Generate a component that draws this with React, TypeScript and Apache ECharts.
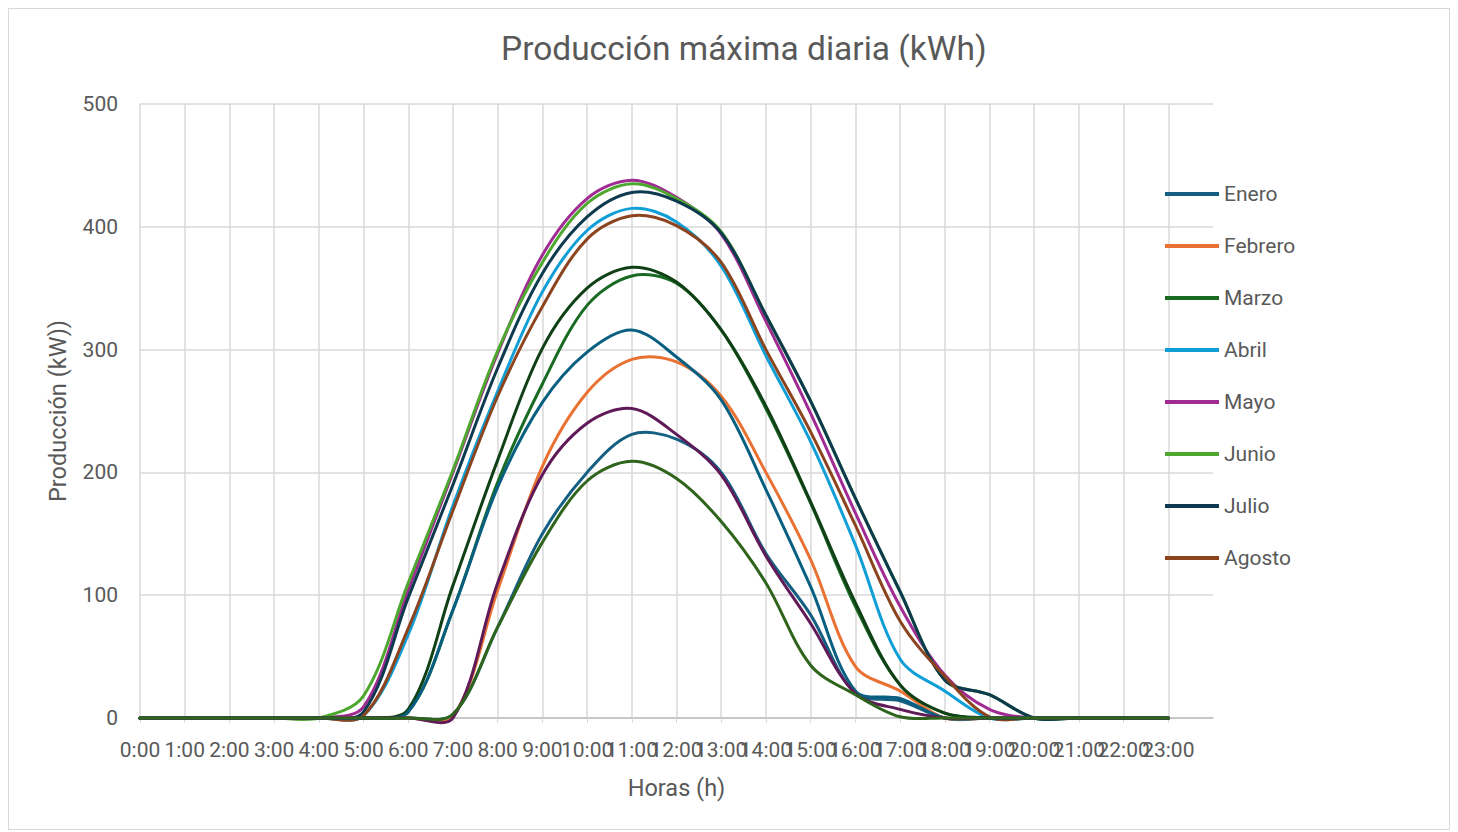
import React, { useEffect, useRef } from "react";
import * as echarts from "echarts";

const hourLabels = [
  "0:00", "1:00", "2:00", "3:00", "4:00", "5:00", "6:00", "7:00", "8:00", "9:00", "10:00", "11:00",
  "12:00", "13:00", "14:00", "15:00", "16:00", "17:00", "18:00", "19:00", "20:00", "21:00", "22:00", "23:00",
];
const categories = [...hourLabels, ""];

const monthNames = [
  "Enero", "Febrero", "Marzo", "Abril", "Mayo", "Junio",
  "Julio", "Agosto", "Septiembre", "Octubre", "Noviembre", "Diciembre",
];
const legendNames = ["Enero", "Febrero", "Marzo", "Abril", "Mayo", "Junio", "Julio", "Agosto"];

const enero = [0, 0, 0, 0, 0, 0, 0, 3, 74, 150, 200, 231, 227, 200, 134, 84, 20, 14, 0, 0, 0, 0, 0, 0];
const febrero = [0, 0, 0, 0, 0, 0, 0, 1, 104, 205, 265, 292, 290, 262, 200, 129, 42, 22, 0, 0, 0, 0, 0, 0];
const marzo = [0, 0, 0, 0, 0, 0, 5, 88, 192, 272, 336, 360, 354, 316, 252, 175, 91, 27, 4, 0, 0, 0, 0, 0];
const abril = [0, 0, 0, 0, 0, 2, 68, 173, 266, 347, 397, 415, 404, 368, 295, 225, 141, 48, 22, 0, 0, 0, 0, 0];
const mayo = [0, 0, 0, 0, 0, 9, 104, 200, 297, 377, 423, 438, 424, 394, 323, 248, 167, 91, 35, 7, 0, 0, 0, 0];
const junio = [0, 0, 0, 0, 0, 18, 110, 202, 299, 371, 419, 435, 423, 396, 328, 258, 179, 103, 31, 19, 0, 0, 0, 0];
const julio = [0, 0, 0, 0, 0, 5, 98, 190, 285, 362, 408, 428, 421, 395, 328, 258, 179, 103, 31, 19, 0, 0, 0, 0];
const agosto = [0, 0, 0, 0, 0, 2, 73, 169, 262, 335, 390, 409, 401, 371, 300, 233, 157, 79, 34, 1, 0, 0, 0, 0];
const septiembre = [0, 0, 0, 0, 0, 0, 7, 108, 210, 301, 350, 367, 355, 316, 254, 176, 94, 27, 4, 0, 0, 0, 0, 0];
const octubre = [0, 0, 0, 0, 0, 0, 5, 88, 188, 257, 298, 316, 294, 259, 186, 107, 22, 16, 0, 0, 0, 0, 0, 0];
const noviembre = [0, 0, 0, 0, 0, 0, 0, 0, 110, 198, 240, 252, 231, 198, 132, 77, 20, 7, 0, 0, 0, 0, 0, 0];
const diciembre = [0, 0, 0, 0, 0, 0, 0, 3, 74, 143, 193, 209, 195, 160, 110, 43, 19, 1, 0, 0, 0, 0, 0, 0];

const seriesValues = [
  enero, febrero, marzo, abril, mayo, junio,
  julio, agosto, septiembre, octubre, noviembre, diciembre,
];

const colors = [
  "#156082", "#E97132", "#196B24", "#0F9ED5", "#A02B93", "#4EA72E",
  "#0D3A4E", "#8C441E", "#0F4016", "#095F80", "#601A58", "#2F641C",
];

const FONT = "Roboto, 'Liberation Sans', sans-serif";
const TEXT = "#595959";
const SMOOTH = 1 / 3;

// Smooth curve through the axis-mapped points, tangents split by segment length
function smoothPath(pts: number[][]): string {
  const n = pts.length;
  const dist = (a: number[], b: number[]) => Math.hypot(b[0] - a[0], b[1] - a[1]);
  const before: number[][] = [];
  const after: number[][] = [];
  for (let i = 0; i < n; i++) {
    const prev = pts[Math.max(i - 1, 0)];
    const next = pts[Math.min(i + 1, n - 1)];
    const p = pts[i];
    const vx = next[0] - prev[0];
    const vy = next[1] - prev[1];
    const d0 = dist(prev, p);
    const d1 = dist(p, next);
    const tot = d0 + d1 || 1;
    before.push([p[0] - vx * SMOOTH * (d0 / tot), p[1] - vy * SMOOTH * (d0 / tot)]);
    after.push([p[0] + vx * SMOOTH * (d1 / tot), p[1] + vy * SMOOTH * (d1 / tot)]);
  }
  let d = `M${pts[0][0]},${pts[0][1]}`;
  for (let j = 0; j < n - 1; j++) {
    const c1 = after[j];
    const c2 = before[j + 1];
    const p2 = pts[j + 1];
    d += ` C${c1[0]},${c1[1]} ${c2[0]},${c2[1]} ${p2[0]},${p2[1]}`;
  }
  return d;
}

export default function App() {
  const ref = useRef<HTMLDivElement>(null);

  useEffect(() => {
    if (!ref.current) return;
    const chart = echarts.init(ref.current, null, { renderer: "svg" });
    const lastIdx = hourLabels.length - 1;
    chart.setOption({
      animation: false,
      color: colors,
      textStyle: { fontFamily: FONT, color: TEXT },
      title: {
        text: "Producción máxima diaria (kWh)",
        left: 487,
        top: 17,
        textStyle: { fontFamily: FONT, fontSize: 33.5, fontWeight: "normal", color: TEXT },
      },
      legend: {
        data: legendNames,
        orient: "vertical",
        left: 1151,
        top: 169,
        itemWidth: 54,
        itemHeight: 4,
        itemGap: 30,
        icon: "rect",
        textStyle: { fontFamily: FONT, fontSize: 21, color: TEXT, lineHeight: 22 },
      },
      grid: { left: 131, top: 95, width: 1073, height: 614, containLabel: false },
      xAxis: {
        type: "category",
        data: categories,
        boundaryGap: false,
        name: "Horas (h)",
        nameLocation: "middle",
        nameGap: 58,
        nameTextStyle: { fontFamily: FONT, fontSize: 23.5, color: TEXT },
        axisLine: { lineStyle: { color: "#bfbfbf", width: 1.5 } },
        axisTick: {
          show: true,
          length: 5,
          interval: (i: number) => i <= lastIdx,
          lineStyle: { color: "#d9d9d9" },
        },
        axisLabel: {
          interval: 0,
          margin: 21,
          fontFamily: FONT,
          fontSize: 21,
          color: TEXT,
          hideOverlap: false,
        },
        splitLine: {
          show: true,
          interval: (i: number) => i <= lastIdx,
          lineStyle: { color: "#d9d9d9", width: 1.5 },
        },
      },
      yAxis: {
        type: "value",
        min: 0,
        max: 500,
        interval: 100,
        name: "Producción (kW))",
        nameLocation: "middle",
        nameGap: 70,
        nameTextStyle: { fontFamily: FONT, fontSize: 23.5, color: TEXT },
        axisLine: { show: false },
        axisTick: { show: false },
        axisLabel: { margin: 22, fontFamily: FONT, fontSize: 21, color: TEXT },
        splitLine: { lineStyle: { color: "#d9d9d9", width: 1.5 } },
      },
      series: monthNames.map((name, i) => ({
        name,
        type: "custom",
        coordinateSystem: "cartesian2d",
        data: seriesValues[i].map((v, j) => [j, v]),
        encode: { x: 0, y: 1 },
        itemStyle: { color: colors[i] },
        renderItem: (params: any, api: any) => {
          if (params.dataIndex !== 0) return null;
          const pts = seriesValues[i].map((v, j) => api.coord([j, v]));
          return {
            type: "path",
            shape: { pathData: smoothPath(pts) },
            style: {
              fill: "none",
              stroke: colors[i],
              lineWidth: 3,
              lineCap: "round",
              lineJoin: "round",
            },
          };
        },
      })),
    });
    return () => chart.dispose();
  }, []);

  return (
    <div style={{ width: 1442, height: 822, border: "1px solid #d9d9d9", boxSizing: "border-box", background: "#fff" }}>
      <div ref={ref} style={{ width: 1440, height: 820 }} />
    </div>
  );
}
